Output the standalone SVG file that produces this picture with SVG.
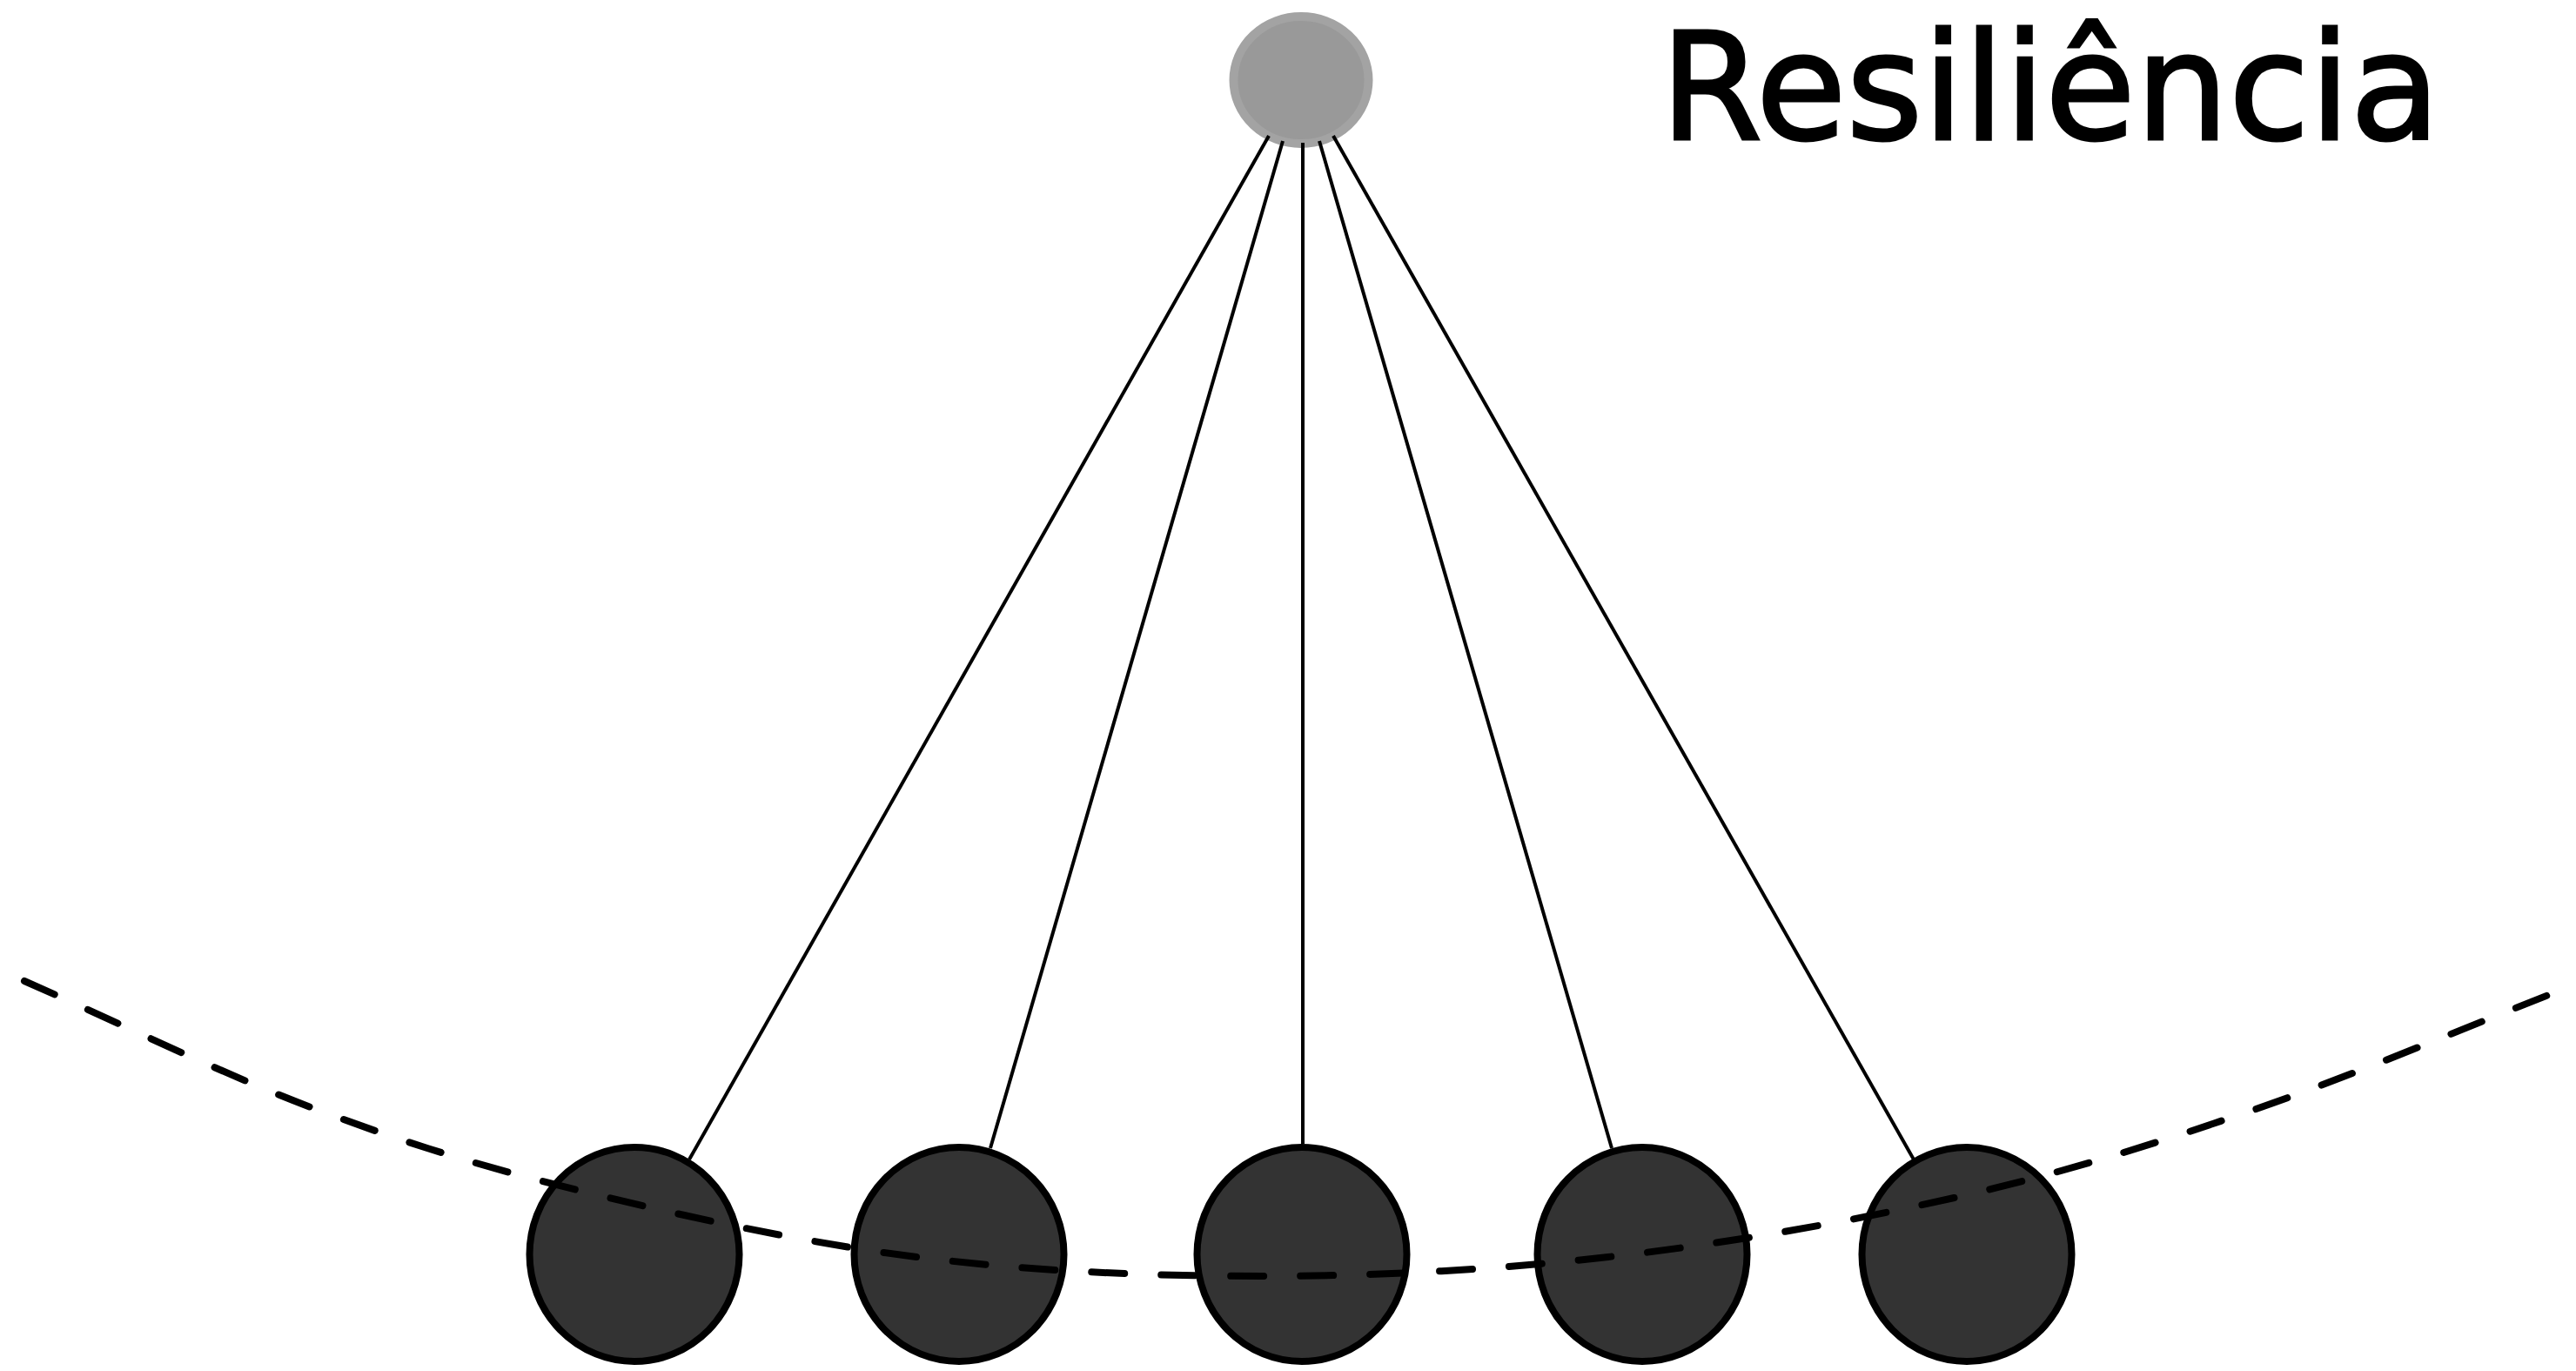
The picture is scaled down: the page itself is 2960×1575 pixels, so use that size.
<svg xmlns="http://www.w3.org/2000/svg" width="2960" height="1575" viewBox="0 0 2960 1575">
  <style>
    .pivot { fill: #999999; stroke: #a3a3a3; stroke-width: 10; }
    .ball { fill: #333333; stroke: #000000; stroke-width: 8; }
    .string { stroke: #000000; stroke-width: 4; fill: none; }
    .swing { fill: none; stroke: #000000; stroke-width: 8; stroke-linecap: round; stroke-dasharray: 38 42; }
    .title { font-family: "Comic Sans MS", "DejaVu Sans", sans-serif; font-size: 172px; fill: #000000; stroke: #000000; stroke-width: 3; }
  </style>
  <rect width="2960" height="1575" fill="#ffffff"/>

  <!-- suspension point -->
  <g id="pivot">
    <ellipse class="pivot" cx="1495" cy="92" rx="77.5" ry="73"/>
  </g>

  <!-- strings from the pivot to each bob -->
  <g id="connectors">
    <line class="string" x1="1458" y1="156" x2="792" y2="1332"/>
    <line class="string" x1="1474" y1="162" x2="1138" y2="1319"/>
    <line class="string" x1="1497" y1="164" x2="1497" y2="1314"/>
    <line class="string" x1="1516" y1="162" x2="1852" y2="1319"/>
    <line class="string" x1="1532" y1="156" x2="2199" y2="1332"/>
  </g>

  <!-- bobs -->
  <g id="ball-1"><ellipse class="ball" cx="729" cy="1441" rx="120.5" ry="123"/></g>
  <g id="ball-2"><ellipse class="ball" cx="1102" cy="1441" rx="120.5" ry="123"/></g>
  <g id="ball-3"><ellipse class="ball" cx="1496" cy="1441" rx="120.5" ry="123"/></g>
  <g id="ball-4"><ellipse class="ball" cx="1887" cy="1441" rx="120.5" ry="123"/></g>
  <g id="ball-5"><ellipse class="ball" cx="2260" cy="1441" rx="120.5" ry="123"/></g>

  <!-- swing trajectory -->
  <g id="swing-path">
    <path class="swing" d="M28,1127 C135,1174 250.5,1231.7 357,1272 C463.5,1312.3 547,1338.3 663,1367 C779,1395.7 921.8,1427.5 1053,1444 C1184.2,1460.5 1317.5,1466 1450,1466 C1582.5,1466 1716.2,1458.8 1848,1444 C1979.8,1429.2 2118.8,1404.7 2241,1377 C2363.2,1349.3 2462.2,1318.7 2581,1278 C2699.8,1237.3 2829.7,1181.3 2954,1133 L2962,1130"/>
  </g>

  <!-- title -->
  <g id="title">
    <text class="title" x="1908" y="160" textLength="896" lengthAdjust="spacingAndGlyphs">Resiliência</text>
  </g>
</svg>
